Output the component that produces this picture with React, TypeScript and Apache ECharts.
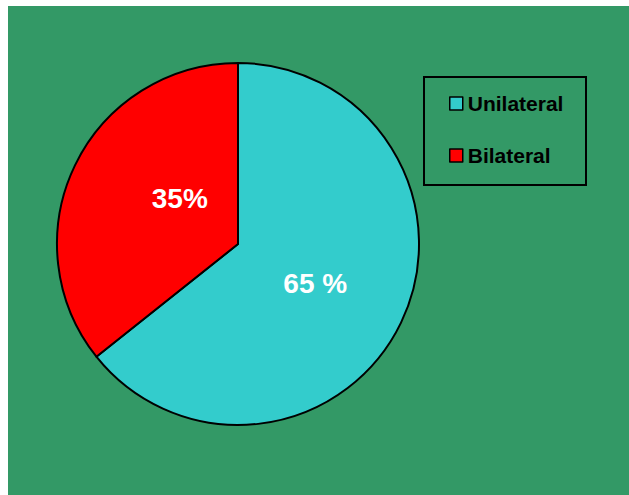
import React, { useEffect, useRef } from "react";
import * as echarts from "echarts";

const categories = ["Unilateral", "Bilateral"];
const values = [64.3, 35.7];
const labelTexts = ["65 %", "35%"];
const colors = ["#33CCCC", "#FF0000"];

export default function App() {
  const ref = useRef<HTMLDivElement>(null);
  useEffect(() => {
    const chart = echarts.init(ref.current!, null, { renderer: "svg" });
    const offsets = [[-7, -1], [26, -5]];
    chart.setOption({
      animation: false,
      backgroundColor: "#339966",
      graphic: [
        {
          type: "rect",
          shape: { x: 416, y: 71, width: 162, height: 108 },
          style: { fill: "none", stroke: "#000", lineWidth: 2 },
          z: 100,
        },
      ],
      legend: {
        orient: "vertical",
        left: 441,
        top: 87,
        padding: 0,
        itemWidth: 13,
        itemHeight: 13,
        itemGap: 31,
        icon: "rect",
        textStyle: {
          fontFamily: "Liberation Sans, Arial, sans-serif",
          fontWeight: "bold",
          fontSize: 21,
          color: "#000",
          lineHeight: 20,
        },
        itemStyle: { borderColor: "#000", borderWidth: 1.5 },
        data: categories,
      },
      series: [
        {
          type: "pie",
          center: [230, 238],
          radius: 181,
          startAngle: 90,
          clockwise: true,
          itemStyle: { borderColor: "#000", borderWidth: 2 },
          emphasis: { disabled: true },
          label: {
            position: "inside",
            color: "#fff",
            fontFamily: "Liberation Sans, Arial, sans-serif",
            fontWeight: "bold",
            fontSize: 28,
          },
          labelLine: { show: false },
          data: categories.map((c, i) => ({
            name: c,
            value: values[i],
            itemStyle: { color: colors[i] },
            label: { formatter: labelTexts[i], offset: offsets[i] },
          })),
        },
      ],
    });
    return () => chart.dispose();
  }, []);
  return (
    <div
      ref={ref}
      style={{ position: "absolute", left: 8, top: 6, width: 621, height: 489 }}
    />
  );
}
